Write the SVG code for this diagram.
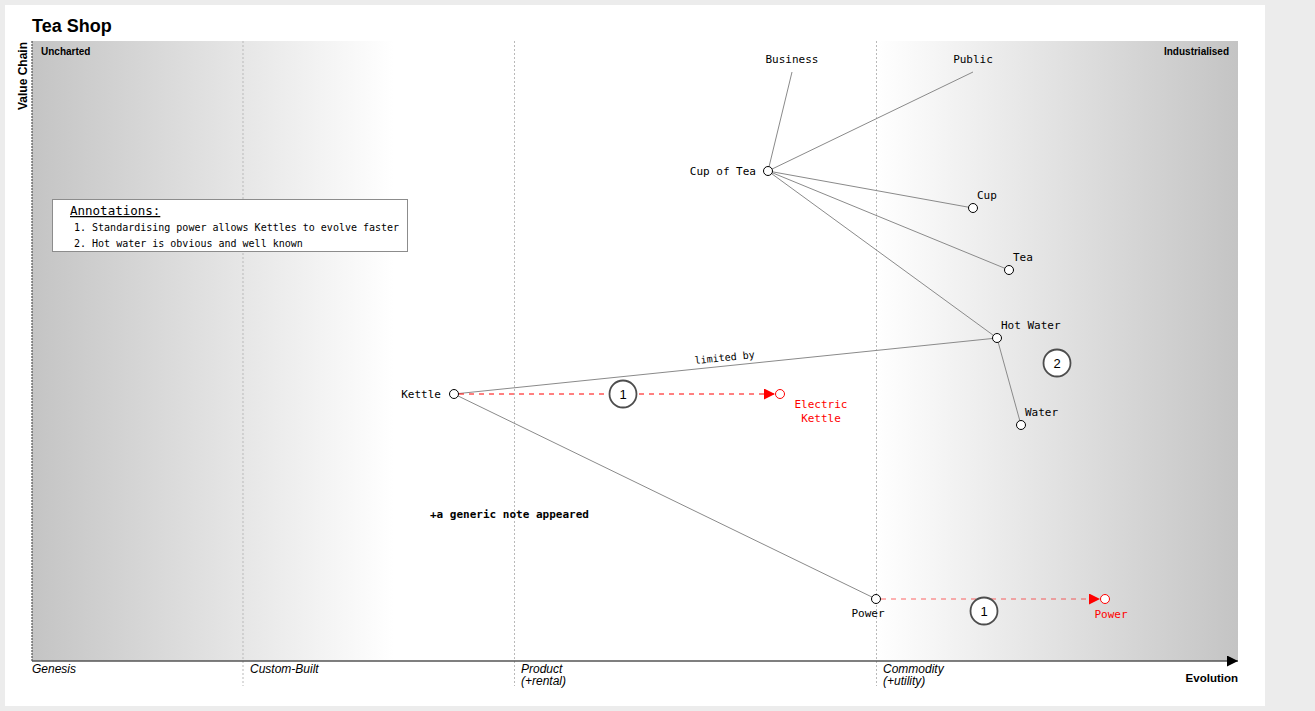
<svg xmlns="http://www.w3.org/2000/svg" width="1315" height="711" viewBox="0 0 1315 711">
<defs>
<linearGradient id="wardley" x1="32" y1="0" x2="1238" y2="0" gradientUnits="userSpaceOnUse">
<stop offset="0" stop-color="#c4c4c4"/>
<stop offset="0.3" stop-color="#ffffff"/>
<stop offset="0.7" stop-color="#ffffff"/>
<stop offset="1" stop-color="#c4c4c4"/>
</linearGradient>
<marker id="arrowRed" viewBox="0 0 10 10" refX="10" refY="5" markerWidth="11" markerHeight="11" markerUnits="userSpaceOnUse" orient="auto">
<path d="M0,0 L10,5 L0,10 z" fill="#ff0000"/>
</marker>
<marker id="arrowBlack" viewBox="0 0 10 10" refX="10" refY="5" markerWidth="11" markerHeight="11" markerUnits="userSpaceOnUse" orient="auto">
<path d="M0,0 L10,5 L0,10 z" fill="#000"/>
</marker>
</defs>
<style>
.mono{font-family:"DejaVu Sans Mono","Liberation Mono",monospace;font-size:11px;fill:#000}
.mono10{font-family:"DejaVu Sans Mono","Liberation Mono",monospace;font-size:10px;fill:#000}
.monoTitle{font-family:"DejaVu Sans Mono","Liberation Mono",monospace;font-size:12.5px;fill:#000;text-decoration:underline}
.red{fill:#ff0000}
.sans{font-family:"Liberation Sans",Arial,sans-serif}
.axisLbl{font-family:"Liberation Sans",Arial,sans-serif;font-size:12px;font-style:italic;fill:#000}
.stage{stroke:#b9b9b9;stroke-width:1;stroke-dasharray:2,2;fill:none}
.edge{stroke:#8a8a8a;stroke-width:1;fill:none}
.node{fill:#fff;stroke:#000;stroke-width:1}
.rnode{fill:#fff;stroke:#ff0000;stroke-width:1}
.ann circle{fill:#fff;stroke:#4d4d4d;stroke-width:1.8}
.ann text{font-family:"Liberation Sans",Arial,sans-serif;font-size:13px;text-anchor:middle;fill:#000}
.evolve{stroke:#ff0000;stroke-width:1;stroke-dasharray:5,5;fill:none}
</style>
<rect x="0" y="0" width="1315" height="711" fill="#ececec"/>
<rect x="5" y="5" width="1260" height="701" fill="#fff"/>
<text x="32" y="32" class="sans" style="font-size:18px;font-weight:bold">Tea Shop</text>
<rect x="32" y="41" width="1206" height="620" fill="url(#wardley)"/>
<g id="stages">
<line class="stage" x1="243" y1="41" x2="243" y2="686"/>
<line class="stage" x1="514.5" y1="41" x2="514.5" y2="686"/>
<line class="stage" x1="876.5" y1="41" x2="876.5" y2="686"/>
</g>
<g id="axes">
<line x1="32" y1="41" x2="32" y2="661" stroke="#555" stroke-width="1.2" stroke-dasharray="2,1"/>
<line x1="32" y1="661" x2="1238" y2="661" stroke="#555" stroke-width="1.5" marker-end="url(#arrowBlack)"/>
<text transform="translate(27,76) rotate(-90)" class="sans" style="font-size:12px;font-weight:bold" text-anchor="middle">Value Chain</text>
<text x="1238" y="682" class="sans" style="font-size:11.5px;font-weight:bold" text-anchor="end">Evolution</text>
<text x="41" y="55" class="sans" style="font-size:10px;font-weight:bold">Uncharted</text>
<text x="1229" y="55" class="sans" style="font-size:10px;font-weight:bold" text-anchor="end">Industrialised</text>
<text x="32" y="673" class="axisLbl">Genesis</text>
<text x="250" y="673" class="axisLbl">Custom-Built</text>
<text x="521" y="673" class="axisLbl">Product</text>
<text x="521" y="685" class="axisLbl">(+rental)</text>
<text x="883" y="673" class="axisLbl">Commodity</text>
<text x="883" y="685" class="axisLbl">(+utility)</text>
</g>
<g id="annotations-box">
<rect x="52.5" y="199.5" width="355" height="52" fill="#fff" stroke="#8c8c8c" stroke-width="1"/>
<text x="70" y="215" class="monoTitle">Annotations:</text>
<text x="74" y="231" class="mono10">1. Standardising power allows Kettles to evolve faster</text>
<text x="74" y="247" class="mono10">2. Hot water is obvious and well known</text>
</g>
<g id="connectors">
<line class="edge" x1="792" y1="72" x2="768" y2="171"/>
<line class="edge" x1="973" y1="72" x2="768" y2="171"/>
<line class="edge" x1="768" y1="171" x2="973" y2="208"/>
<line class="edge" x1="768" y1="171" x2="1009" y2="270"/>
<line class="edge" x1="768" y1="171" x2="997" y2="338"/>
<line class="edge" x1="997" y1="338" x2="1021" y2="425"/>
<line class="edge" x1="454" y1="394" x2="997" y2="338"/>
<line class="edge" x1="454" y1="394" x2="876" y2="599"/>
<text class="mono10" text-anchor="middle" transform="translate(725,361) rotate(-5.9)">limited by</text>
<line class="evolve" x1="459" y1="394" x2="775" y2="394" marker-end="url(#arrowRed)"/>
<line class="evolve" x1="881" y1="599" x2="1100" y2="599" stroke-opacity="0.6" marker-end="url(#arrowRed)"/>
</g>
<g id="node-business"><text x="792" y="63" class="mono" text-anchor="middle">Business</text></g>
<g id="node-public"><text x="973" y="63" class="mono" text-anchor="middle">Public</text></g>
<g id="node-cupoftea"><circle class="node" cx="768" cy="171" r="4.5"/><text x="756" y="175" class="mono" text-anchor="end">Cup of Tea</text></g>
<g id="node-cup"><circle class="node" cx="973" cy="208" r="4.5"/><text x="977" y="199" class="mono">Cup</text></g>
<g id="node-tea"><circle class="node" cx="1009" cy="270" r="4.5"/><text x="1013" y="261" class="mono">Tea</text></g>
<g id="node-hotwater"><circle class="node" cx="997" cy="338" r="4.5"/><text x="1001" y="329" class="mono">Hot Water</text></g>
<g id="node-water"><circle class="node" cx="1021" cy="425" r="4.5"/><text x="1025" y="416" class="mono">Water</text></g>
<g id="node-kettle"><circle class="node" cx="454" cy="394" r="4.5"/><text x="441" y="398" class="mono" text-anchor="end">Kettle</text></g>
<g id="node-electric-kettle"><circle class="rnode" cx="780" cy="394" r="4.5"/><text x="821" y="408" class="mono red" text-anchor="middle">Electric</text><text x="821" y="422" class="mono red" text-anchor="middle">Kettle</text></g>
<g id="node-power"><circle class="node" cx="876" cy="599" r="4.5"/><text x="868" y="617" class="mono" text-anchor="middle">Power</text></g>
<g id="node-power-evolved"><circle class="rnode" cx="1105" cy="599" r="4.5"/><text x="1111" y="618" class="mono red" text-anchor="middle">Power</text></g>
<g id="ann-1a" class="ann"><circle cx="623" cy="394" r="13.5"/><text x="623" y="399">1</text></g>
<g id="ann-2" class="ann"><circle cx="1057" cy="363" r="13.5"/><text x="1057" y="368">2</text></g>
<g id="ann-1b" class="ann"><circle cx="984" cy="611" r="13.5"/><text x="984" y="616">1</text></g>
<g id="note"><text x="430" y="518" class="mono" style="font-weight:bold">+a generic note appeared</text></g>
</svg>
